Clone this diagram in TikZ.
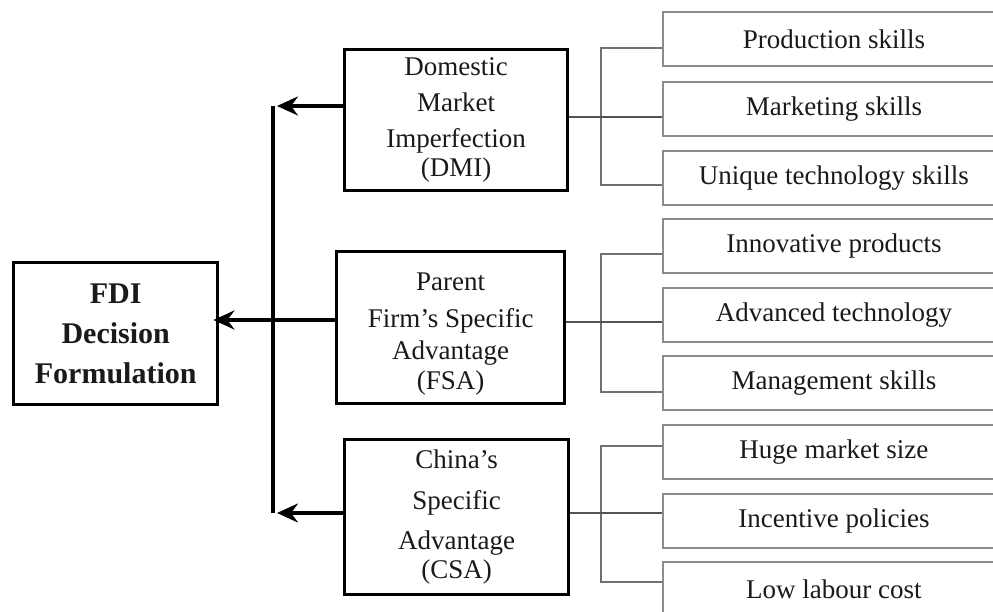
\documentclass[tikz,border=0pt]{standalone}
\usepackage{fontspec}
\setmainfont{Liberation Serif}
\usetikzlibrary{arrows.meta}
\definecolor{txt}{HTML}{1A1A1A}
\definecolor{itemline}{HTML}{8C8C8C}
\definecolor{brkline}{HTML}{707070}
\begin{document}
\begin{tikzpicture}[x=1pt,y=-1pt,
  mainbox/.style={draw=black, line width=3.4pt, inner sep=0pt, anchor=north west,
    align=center, text=txt, font=\fontsize{27}{36}\selectfont},
  fdibox/.style={mainbox, font=\bfseries\fontsize{30}{40}\selectfont},
  itembox/.style={draw=itemline, line width=1.8pt, inner sep=0pt, anchor=west,
    minimum width=342pt, minimum height=54pt, text=txt, font=\fontsize{27}{32}\selectfont},
  conn/.style={draw=black, line width=3.4pt},
  tipped/.style={-{Stealth[length=21pt,width=19pt,inset=7pt]}},
  brk/.style={draw=brkline, line width=2.4pt},
  midl/.style={draw=brkline!75!black, line width=1.6pt}]
\useasboundingbox (0,0) rectangle (993,612);
\fill[white] (0,0) rectangle (993,612);
\clip (0,0) rectangle (993,612);

% main boxes
\node[fdibox, minimum width=204pt, minimum height=142pt] (fdi) at (12,261) {FDI\\Decision\\Formulation};
\node[mainbox, minimum width=223pt, minimum height=141pt] (dmi) at (343,48)
  {Domestic\\Market\\Imperfection\\[-7pt](DMI)};
\node[mainbox, minimum width=228pt, minimum height=152pt] (fsa) at (335,250)
  {\rule{0pt}{31pt}Parent\\[1pt]Firm’s Specific\\[-4pt]Advantage\\[-6pt](FSA)};
\node[mainbox, minimum width=224pt, minimum height=155pt] (csa) at (343,438)
  {China’s\\[5pt]Specific\\[4pt]Advantage\\[-7pt](CSA)};

% item boxes
\node[itembox] (p1) at (662,39)  {Production skills};
\node[itembox] (p2) at (662,109) {Marketing skills};
\node[itembox] (p3) at (662,178) {Unique technology skills};
\node[itembox] (f1) at (662,246) {Innovative products};
\node[itembox] (f2) at (662,315) {Advanced technology};
\node[itembox] (f3) at (662,383) {Management skills};
\node[itembox] (c1) at (662,452) {Huge market size};
\node[itembox] (c2) at (662,521) {Incentive policies};
\node[itembox] (c3) at (662,589) {Low labour cost};

% bus on the left
\coordinate (bt) at (273,106);
\coordinate (bm) at (273,320);
\coordinate (bb) at (273,513);
\draw[conn] (bt) -- (bb);
\draw[conn, tipped] (dmi.west |- bt) -- ([xshift=4pt]bt);
\draw[conn, tipped] (csa.west |- bb) -- ([xshift=4pt]bb);
\draw[conn, tipped, shorten >=-6pt] (fsa.west |- bm) -- (fdi.east |- bm);

% brackets on the right
\draw[brk] (p1.west |- 0,48) -- (601,48) -- (601,185) -- (p3.west |- 0,185);
\draw[midl] (dmi.east |- 0,117) -- (p2.west |- 0,117);
\draw[brk] (f1.west |- 0,254) -- (601,254) -- (601,392) -- (f3.west |- 0,392);
\draw[midl] (fsa.east |- 0,322) -- (f2.west |- 0,322);
\draw[brk] (c1.west |- 0,446) -- (601,446) -- (601,582) -- (c3.west |- 0,582);
\draw[midl] (csa.east |- 0,513) -- (c2.west |- 0,513);
\end{tikzpicture}
\end{document}
